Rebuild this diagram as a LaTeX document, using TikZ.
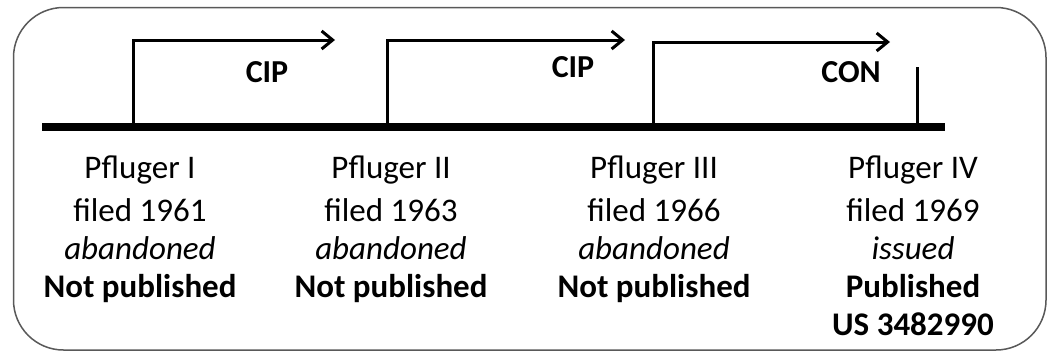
\documentclass[tikz,border=0pt]{standalone}
\usepackage{fontspec}
\setmainfont{Carlito}
\usetikzlibrary{arrows.meta}
\begin{document}
\begin{tikzpicture}[x=1pt,y=-1pt,
  frame/.style={draw=black!65, line width=1.5pt, rounded corners=50pt},
  timeline/.style={line width=8pt},
  branch/.style={line width=3pt, -{Straight Barb[length=11pt,width=18pt,line width=3pt]}},
  tick/.style={line width=3pt},
  kind/.style={font=\fontsize{32}{38}\selectfont\bfseries, inner sep=0pt},
  app/.style={font=\fontsize{33}{38}\selectfont, align=center, anchor=north, inner sep=0pt}]
  \useasboundingbox (0,0) rectangle (1049,356);
  \fill[white] (0,0) rectangle (1049,356);
  % rounded frame
  \draw[frame] (13.5,7.5) rectangle (1046,350);
  % filing points on the timeline
  \coordinate (t0) at (42,127);
  \coordinate (t5) at (945,127);
  \coordinate (p1) at (133,127);
  \coordinate (p2) at (387,127);
  \coordinate (p3) at (653,127);
  \coordinate (p4) at (917,127);
  \coordinate (e1) at (335,40);
  \coordinate (e2) at (625,40);
  \coordinate (e3) at (890,42);
  \coordinate (q4) at (917,67);
  % continuation arrows
  \draw[branch] (p1) |- (e1);
  \draw[branch] (p2) |- (e2);
  \draw[branch] (p3) |- (e3);
  \draw[tick] (p4) -- (q4);
  \draw[timeline] (t0) -- (t5);
  % relation labels
  \node[kind] (c1) at (267,72) {CIP};
  \node[kind] (c2) at (573,67) {CIP};
  \node[kind] (c3) at (851,72) {CON};
  % applications
  \node[app] (a1) at (140,156) {Pfluger I\\[5pt]filed 1961\\\itshape abandoned\\\bfseries Not published};
  \node[app] (a2) at (391,156) {Pfluger II\\[5pt]filed 1963\\\itshape abandoned\\\bfseries Not published};
  \node[app] (a3) at (654,156) {Pfluger III\\[5pt]filed 1966\\\itshape abandoned\\\bfseries Not published};
  \node[app] (a4) at (913,156) {Pfluger IV\\[5pt]filed 1969\\\itshape issued\\\bfseries Published\\\bfseries US 3482990};
\end{tikzpicture}
\end{document}
